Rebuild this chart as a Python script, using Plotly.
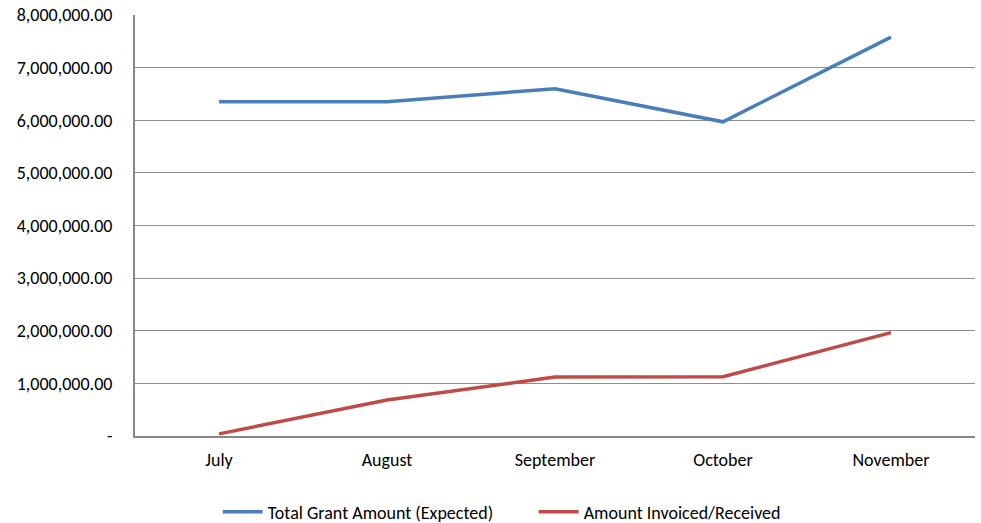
import plotly.graph_objects as go

months = ["July", "August", "September", "October", "November"]
expected = [6350000, 6350000, 6600000, 5970000, 7580000]
invoiced = [40000, 685000, 1120000, 1125000, 1965000]
y_ticks = [0, 1000000, 2000000, 3000000, 4000000, 5000000, 6000000, 7000000, 8000000]
y_labels = ["-", "1,000,000.00", "2,000,000.00", "3,000,000.00", "4,000,000.00",
            "5,000,000.00", "6,000,000.00", "7,000,000.00", "8,000,000.00"]

font_family = "Carlito, Calibri, Lato, sans-serif"

fig = go.Figure()
fig.add_trace(go.Scatter(x=months, y=expected, mode="lines", name="Total Grant Amount (Expected)",
                         line=dict(color="#4A7EBB", width=3.5)))
fig.add_trace(go.Scatter(x=months, y=invoiced, mode="lines", name="Amount Invoiced/Received",
                         line=dict(color="#BE4B48", width=3.5)))

fig.update_layout(
    width=981, height=523,
    margin=dict(l=135, r=6, t=15, b=87),
    paper_bgcolor="white", plot_bgcolor="white",
    font=dict(family=font_family, size=18, color="#000000"),
    showlegend=True,
    legend=dict(orientation="h", x=0.544, xanchor="center", xref="container",
                y=0.021, yanchor="middle", yref="container",
                entrywidth=261, entrywidthmode="pixels",
                font=dict(size=18), itemwidth=40, tracegroupgap=0),
    xaxis=dict(type="category", range=[-0.5, 4.5], showgrid=False, automargin=False,
               showline=True, linecolor="#868686", linewidth=2,
               ticks="", ticklabelstandoff=6, tickfont=dict(size=18)),
    yaxis=dict(range=[0, 8000000], tickvals=y_ticks, ticktext=y_labels, automargin=False,
               showgrid=True, gridcolor="#8E8E8E", gridwidth=1,
               showline=True, linecolor="#868686", linewidth=2,
               zeroline=False, ticks="", ticklabelstandoff=17,
               tickfont=dict(size=18)),
)

fig.write_html("out.html", config={"responsive": False, "displayModeBar": False},
               post_script="document.body.style.margin='0';document.body.style.overflow='hidden';")
